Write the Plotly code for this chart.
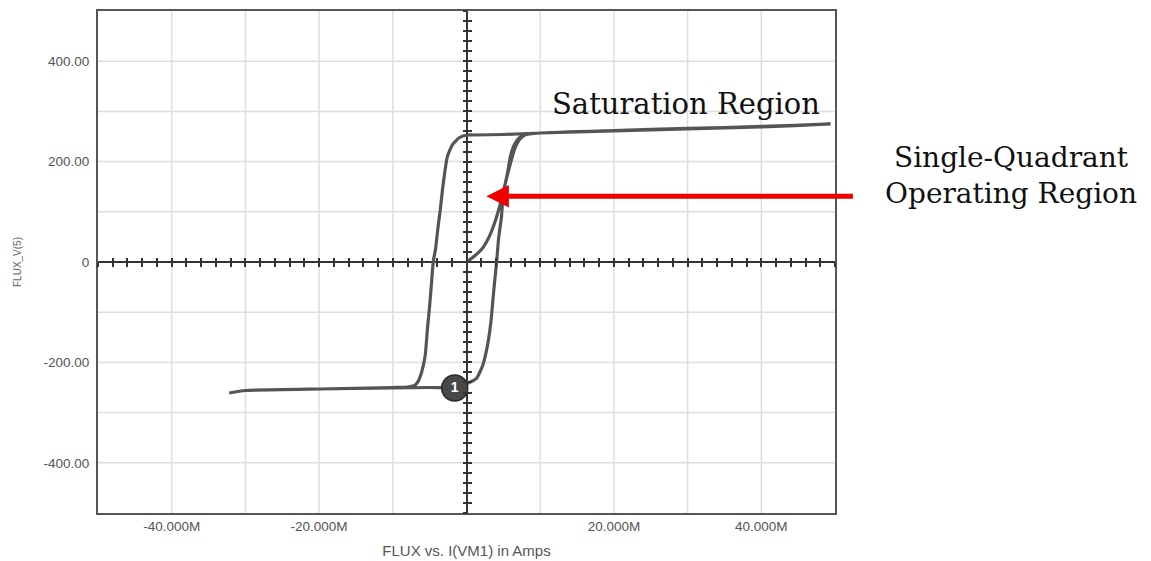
import plotly.graph_objects as go

# ---- data (current in mA, flux as displayed) ----
init_x = [0, 1.1, 2.2, 3.1, 3.8, 4.5, 5.15, 5.85, 6.5, 7.2, 7.9, 10.0]
init_y = [0, 12, 28, 51, 77, 111, 150, 190, 224, 244, 253, 257]

top_out_x = [20.0, 30.0, 40.0, 49.4]
top_out_y = [262, 266, 270, 275]

top_back_x = [40.0, 30.0, 20.0, 10.0, 5.0, 1.0, 0.1]
top_back_y = [269, 265, 261, 257, 254, 253, 253]

desc_x = [-0.95, -1.9, -2.6, -2.9, -3.25, -3.55, -3.9, -4.2, -4.5, -4.75, -5.0, -5.3, -5.6, -6.1, -6.65, -7.05, -8.0]
desc_y = [248, 234, 210, 184, 145, 105, 65, 26, 2, -42, -87, -133, -186, -220, -240, -246, -249]

bot_back_x = [-10.0, -20.0, -30.0, -32.2]
bot_back_y = [-250, -253, -256, -261]

bot_fwd_x = [-30.0, -20.0, -10.0, -5.0, -1.6, 0.1]
bot_fwd_y = [-256, -253, -251, -250, -250, -242]

asc_x = [1.35, 2.2, 2.85, 3.3, 3.6, 3.85, 4.1, 4.35, 4.75, 5.0, 5.55, 5.95, 6.5, 7.2, 8.3, 10.0]
asc_y = [-232, -206, -166, -121, -73, -34, 2, 46, 91, 137, 176, 210, 234, 248, 255, 257]

cursor_x = [-1.6]
cursor_y = [-251]
cursor_label = ["1"]

x_tickvals = [-40, -20, 20, 40]
x_ticktext = ["-40.000M", "-20.000M", "20.000M", "40.000M"]
y_tickvals = [-400, -200, 0, 200, 400]
y_ticktext = ["-400.00", "-200.00", "0", "200.00", "400.00"]

arrow_tip = (2.7, 131)

# ---- build path ----
path_x = init_x + top_out_x + top_back_x + desc_x + bot_back_x + bot_fwd_x + asc_x
path_y = init_y + top_out_y + top_back_y + desc_y + bot_back_y + bot_fwd_y + asc_y

XR = [-50, 50]
YR = [-500, 500]

fig = go.Figure()

fig.add_trace(go.Scatter(
    x=path_x, y=path_y, mode="lines",
    line=dict(color="#555555", width=3.2, shape="spline", smoothing=0.5),
    hoverinfo="skip", showlegend=False))

fig.add_trace(go.Scatter(
    x=cursor_x, y=cursor_y, mode="markers+text", text=cursor_label,
    textposition="middle center",
    textfont=dict(family="Arial", size=14, color="white", weight="bold"),
    marker=dict(size=26, color="#484848", line=dict(color="#2a2a2a", width=1.5)),
    hoverinfo="skip", showlegend=False))

# dummy traces for tick-cross axes
for xa, ya in [("x2", "y2"), ("x3", "y3")]:
    fig.add_trace(go.Scatter(x=[None], y=[None], xaxis=xa, yaxis=ya,
                             showlegend=False, hoverinfo="skip"))

grid = "#dedede"
frame = "#555555"
tickfont = dict(family="Arial", size=13.5, color="#555555")

cross = dict(showticklabels=False, showgrid=False, zeroline=False, showline=False,
             ticklen=4, tickwidth=1.5, tickcolor="#333333", tick0=0)

fig.update_layout(
    width=1143, height=553,
    margin=dict(l=90, r=316, t=1, b=48),
    paper_bgcolor="white", plot_bgcolor="white",
    xaxis=dict(range=XR, tickvals=x_tickvals, ticktext=x_ticktext,
               showgrid=False, zeroline=True, zerolinecolor="#333333", zerolinewidth=2,
               showline=True, mirror=True, linecolor=frame, linewidth=2,
               ticks="", tickfont=tickfont,
               title=dict(text="FLUX vs. I(VM1) in Amps",
                          font=dict(family="Arial", size=15, color="#555555"),
                          standoff=12)),
    yaxis=dict(range=YR, tickvals=y_tickvals, ticktext=y_ticktext,
               showgrid=False, zeroline=True, zerolinecolor="#333333", zerolinewidth=2,
               showline=True, mirror=True, linecolor=frame, linewidth=2,
               ticks="", tickfont=tickfont, ticklabelstandoff=4,
               title=dict(text="FLUX_V(5)",
                          font=dict(family="Arial", size=10, color="#666666"),
                          standoff=20)),
    xaxis2=dict(overlaying="x", anchor="free", position=0.5, range=XR,
                dtick=2, ticks="outside", **cross),
    xaxis3=dict(overlaying="x", anchor="free", position=0.5, range=XR,
                dtick=2, ticks="inside", **cross),
    yaxis2=dict(overlaying="y", anchor="free", position=0.5, range=YR,
                dtick=20, ticks="outside", **cross),
    yaxis3=dict(overlaying="y", anchor="free", position=0.5, range=YR,
                dtick=20, ticks="inside", **cross),
)

# grid lines every 10 mA and 100 units (drawn below traces)
for gx in range(-40, 50, 10):
    if gx != 0:
        fig.add_shape(type="line", x0=gx, x1=gx, y0=0, y1=1, xref="x", yref="paper",
                      line=dict(color=grid, width=1.5), layer="below")
for gy in range(-400, 500, 100):
    if gy != 0:
        fig.add_shape(type="line", x0=0, x1=1, y0=gy, y1=gy, xref="paper", yref="y",
                      line=dict(color=grid, width=1.5), layer="below")

serif = "DejaVu Serif"
fig.add_annotation(x=48.2, y=315, xref="x", yref="y", xanchor="right", yanchor="middle",
                   text="Saturation Region", showarrow=False,
                   font=dict(family=serif, size=29, color="#111111"))
fig.add_annotation(x=1.239, y=0.672, xref="paper", yref="paper",
                   xanchor="center", yanchor="middle",
                   text="Single-Quadrant<br>Operating Region", showarrow=False,
                   font=dict(family=serif, size=28, color="#111111"))
fig.add_annotation(x=arrow_tip[0], y=arrow_tip[1], xref="x", yref="y",
                   ax=368, ay=0, text="", showarrow=True,
                   arrowhead=2, arrowsize=0.9, arrowwidth=5, arrowcolor="#ee0000")

fig.write_html("out.html")
